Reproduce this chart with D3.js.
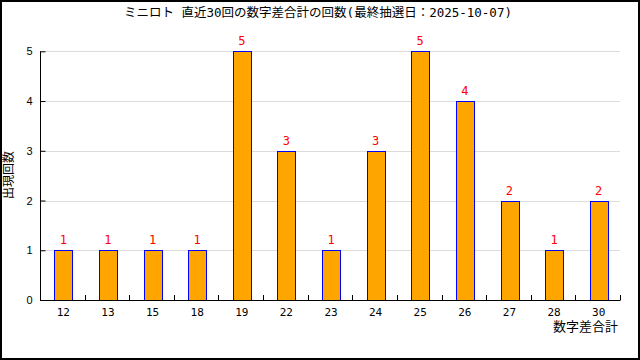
<!DOCTYPE html>
<html>
<head>
<meta charset="utf-8">
<script src="https://cdn.jsdelivr.net/npm/d3@7"></script>
<style>
  html, body { margin: 0; padding: 0; background: #fff; }
  svg { display: block; font-family: "DejaVu Sans Mono", "Noto Sans CJK JP", monospace; }
</style>
</head>
<body>
<svg id="chart"></svg>
<script>
const title = "ミニロト 直近30回の数字差合計の回数(最終抽選日：2025-10-07)";
const xTitle = "数字差合計";
const yTitle = "出現回数";
const categories = ["12", "13", "15", "18", "19", "22", "23", "24", "25", "26", "27", "28", "30"];
const counts = [1, 1, 1, 1, 5, 3, 1, 3, 5, 4, 2, 1, 2];
const yTicks = [0, 1, 2, 3, 4, 5];

const w = 640, h = 360;
const plotLeft = 40, plotRight = 620, plotTop = 51.3, plotBottom = 300;

const svg = d3.select("#chart")
    .attr("width", w)
    .attr("height", h);

// outer frame
svg.append("rect")
    .attr("x", 1).attr("y", 1)
    .attr("width", w - 2).attr("height", h - 2)
    .attr("fill", "#fff")
    .attr("stroke", "#000")
    .attr("stroke-width", 2);

const xScale = d3.scaleBand()
    .domain(categories)
    .range([plotLeft, plotRight])
    .paddingInner(0.6)
    .paddingOuter(0.3);

const yScale = d3.scaleLinear()
    .domain([0, 5])
    .range([plotBottom, plotTop]);

// grid
svg.append("g")
    .selectAll("line")
    .data(yTicks.filter(d => d > 0))
    .join("line")
    .attr("x1", plotLeft).attr("x2", plotRight)
    .attr("y1", d => Math.round(yScale(d)) + 0.5)
    .attr("y2", d => Math.round(yScale(d)) + 0.5)
    .attr("stroke", "#dcdcdc");

// bars
svg.append("g")
    .selectAll("rect")
    .data(counts)
    .join("rect")
    .attr("x", (d, i) => Math.round(xScale(categories[i])) + 1.5)
    .attr("y", d => Math.round(yScale(d)) + 0.5)
    .attr("width", Math.round(xScale.bandwidth()))
    .attr("height", d => Math.round(yScale(0)) - Math.round(yScale(d)))
    .attr("fill", "#ffa500")
    .attr("stroke", "#0000ff")
    .attr("stroke-width", 1);

// value labels
svg.append("g")
    .selectAll("text")
    .data(counts)
    .join("text")
    .attr("x", (d, i) => xScale(categories[i]) + xScale.bandwidth() / 2 + 1)
    .attr("y", d => yScale(d) - 6)
    .attr("text-anchor", "middle")
    .attr("fill", "#ff0000")
    .attr("font-size", 12)
    .text(d => d);

// y axis
const yAxis = d3.axisLeft(yScale)
    .tickValues(yTicks)
    .tickSize(-5)
    .tickPadding(8)
    .tickFormat(d3.format("d"));

svg.append("g")
    .attr("transform", "translate(" + (plotLeft + 0.5) + ",0)")
    .call(yAxis)
    .call(g => g.select(".domain").attr("d", "M0," + plotTop + "V" + plotBottom))
    .call(g => g.selectAll("text").attr("font-size", 11).attr("font-family", null).attr("fill", "#000"));

// x axis
const step = xScale.step();
svg.append("line")
    .attr("x1", plotLeft).attr("x2", plotRight + 0.5)
    .attr("y1", plotBottom + 0.5).attr("y2", plotBottom + 0.5)
    .attr("stroke", "#000");

svg.append("g")
    .selectAll("line")
    .data(categories)
    .join("line")
    .attr("x1", (d, i) => Math.round(plotLeft + step * (i + 1)) + 0.5)
    .attr("x2", (d, i) => Math.round(plotLeft + step * (i + 1)) + 0.5)
    .attr("y1", plotBottom - 5)
    .attr("y2", plotBottom)
    .attr("stroke", "#000");

svg.append("g")
    .selectAll("text")
    .data(categories)
    .join("text")
    .attr("x", d => xScale(d) + xScale.bandwidth() / 2 + 1)
    .attr("y", 316)
    .attr("text-anchor", "middle")
    .attr("font-size", 11)
    .text(d => d);

// titles
svg.append("text")
    .attr("x", 318)
    .attr("y", 17)
    .attr("text-anchor", "middle")
    .attr("font-size", 12.5)
    .text(title);

svg.append("text")
    .attr("x", 618)
    .attr("y", 331)
    .attr("text-anchor", "end")
    .attr("font-size", 13)
    .text(xTitle);

svg.append("text")
    .attr("transform", "translate(13,175) rotate(-90)")
    .attr("text-anchor", "middle")
    .attr("font-size", 12)
    .text(yTitle);
</script>
</body>
</html>
